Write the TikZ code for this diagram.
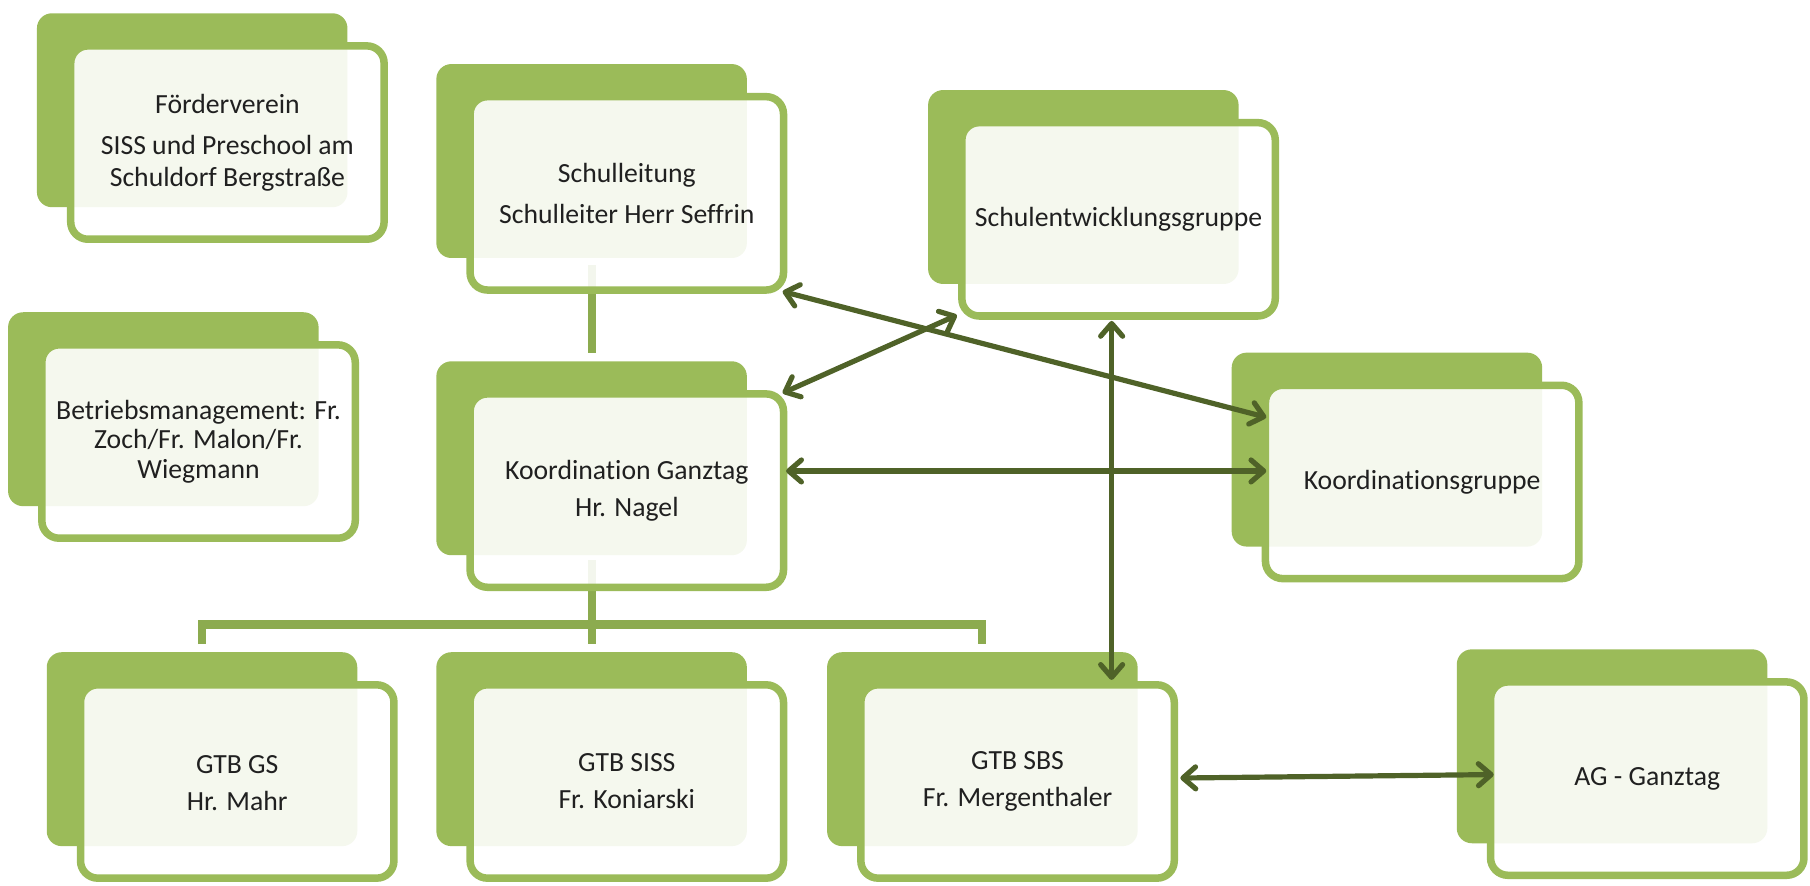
\documentclass[tikz,border=0pt]{standalone}
\usepackage{fontspec}
\setmainfont{Carlito}[Ligatures={NoCommon}]
\usetikzlibrary{arrows.meta,calc}
\definecolor{boxgreen}{HTML}{9BBB59}
\definecolor{linegreen}{HTML}{8CAB4F}
\definecolor{arrowgreen}{HTML}{4F6228}
\definecolor{txt}{HTML}{202020}
\begin{document}
\begin{tikzpicture}[x=1pt,y=-1pt,
  backbox/.style={fill=boxgreen, rounded corners=13pt, minimum width=269pt, minimum height=168pt, inner sep=0pt, outer sep=0pt},
  frontbox/.style={draw=boxgreen, line width=6.5pt, fill=white, fill opacity=0.9, draw opacity=1, text opacity=1, rounded corners=15pt, minimum width=271.5pt, minimum height=167.5pt, inner sep=0pt, align=center, text=txt, font=\fontsize{24}{27}\selectfont},
  treeline/.style={draw=linegreen, line width=7pt},
  link/.style={draw=arrowgreen, line width=4.5pt, line cap=round,
    {Straight Barb[length=11pt,width=19pt,round]}-{Straight Barb[length=11pt,width=19pt,round]}}
]
\useasboundingbox (0,0) rectangle (1568,767);
% centres of the front boxes
\coordinate (fvC) at (197,123.5);
\coordinate (slC) at (543,167.5);
\coordinate (seC) at (969,190);
\coordinate (bmC) at (172,382.5);
\coordinate (kgC) at (543,425);
\coordinate (koC) at (1232,417.5);
\coordinate (gsC) at (205.5,677);
\coordinate (sissC) at (543,677);
\coordinate (sbsC) at (881.5,677);
\coordinate (agC) at (1427,674.5);
% back boxes
\foreach \n in {fv,sl,se,bm,kg,ko,gs,siss,sbs,ag}{
  \node[backbox] (\n B) at ($(\n C)+(-30.5,-28)$) {};
}
% tree lines
\draw[treeline] ($(kgB.north |- slC)+(0,62)$) -- ($(kgB.north)+(0,-7)$);
\draw[treeline] ($(sissB.north |- kgC)+(0,60)$) -- ($(sissB.north)+(0,-7)$);
\draw[treeline] ($(gsB.north)+(0,-7)$) -- ($(gsB.north)+(0,-24)$) -| ($(sbsB.north)+(0,-7)$);
% front boxes
\node[frontbox] (fvF) at (fvC) {Förderverein\\[9pt]SISS und Preschool am\\Schuldorf Bergstraße};
\node[frontbox] (slF) at (slC) {Schulleitung\\[9pt]Schulleiter Herr Seffrin};
\node[frontbox] (seF) at (seC) {Schulentwicklungsgruppe};
\node[frontbox] (bmF) at (bmC) {Betriebsmanagement: Fr.\\[-1.5pt]Zoch/Fr. Malon/Fr.\\[-1.5pt]Wiegmann};
\node[frontbox] (kgF) at (kgC) {Koordination Ganztag\\[5pt]Hr. Nagel};
\node[frontbox] (koF) at (koC) {Koordinationsgruppe};
\node[frontbox, text depth=0pt] (gsF) at (gsC) {\raisebox{-3pt}{GTB GS}\\[5pt]\raisebox{-3pt}{Hr. Mahr}};
\node[frontbox] (sissF) at (sissC) {\raisebox{-3pt}{GTB SISS}\\[5pt]\raisebox{-3pt}{Fr. Koniarski}};
\node[frontbox] (sbsF) at (sbsC) {\raisebox{-3pt}{GTB SBS}\\[5pt]\raisebox{-3pt}{Fr. Mergenthaler}};
\node[frontbox] (agF) at (agC) {AG - Ganztag};
% arrows
\draw[link] ($(slF.south east)+(-4,-2)$) -- ($(koF.north west)+(4,31)$);
\draw[link] ($(kgF.north east)+(-4,2.5)$) -- ($(seF.south west)+(-1,-4)$);
\draw[link] ($(kgF.east)+(-1,-17)$) -- ($(koF.west)+(4,-9.5)$);
\draw[link] ($(seF.south)+(-6,1)$) -- ($(sbsF.north)+(81.5,-1)$);
\draw[link] ($(sbsF.east)+(2,-3)$) -- ($(agF.west)+(6,-3.5)$);
\end{tikzpicture}
\end{document}
